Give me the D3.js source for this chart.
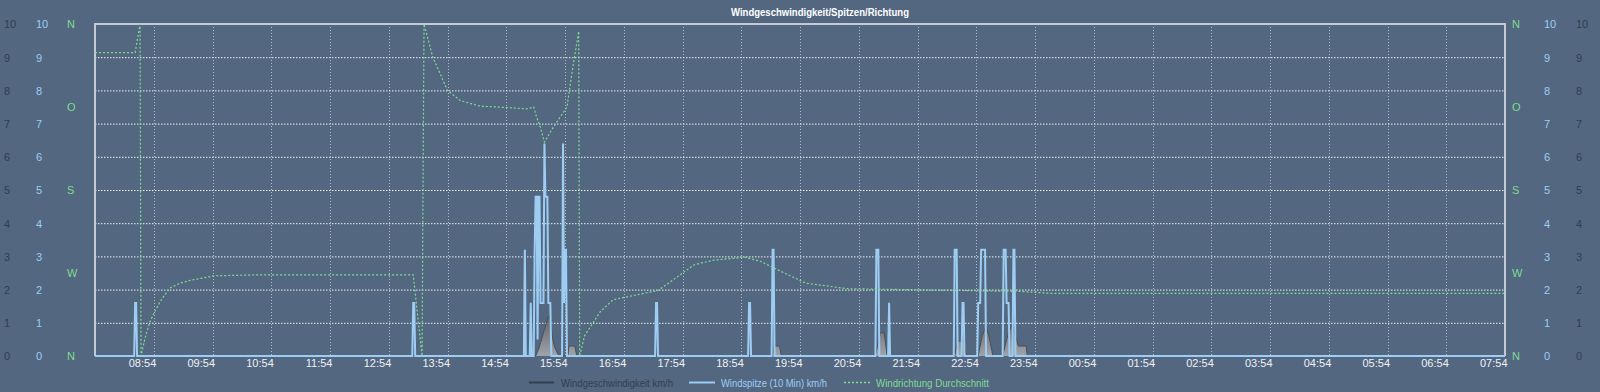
<!DOCTYPE html>
<html><head><meta charset="utf-8">
<script src="https://cdn.jsdelivr.net/npm/d3@7"></script>
<style>
html,body{margin:0;padding:0;background:#536781;}
svg{display:block;font-family:"Liberation Sans",Arial,Helvetica,sans-serif;}
</style></head><body><svg id="c" width="1600" height="392"></svg>
<script>
// ---------- data ----------
const title = "Windgeschwindigkeit/Spitzen/Richtung";
const startTime = "07:54";
const endTime = "07:54";
const xTickLabels = ["08:54","09:54","10:54","11:54","12:54","13:54","14:54","15:54","16:54","17:54","18:54","19:54","20:54","21:54","22:54","23:54","00:54","01:54","02:54","03:54","04:54","05:54","06:54","07:54"];
const speedTicks = [0,1,2,3,4,5,6,7,8,9,10];
const gustTicks = [0,1,2,3,4,5,6,7,8,9,10];
const dirTicks = [0,90,180,270,360];
const dirLabels = ["N","W","S","O","N"];
const legendLabels = ["Windgeschwindigkeit km/h","Windspitze (10 Min) km/h","Windrichtung Durchschnitt"];

// Windgeschwindigkeit km/h
const speedData = [
 ["07:54",0],["15:24",0],["15:27",0.2],["15:30",0.5],["15:32",0.7],["15:35",1.0],["15:37",1.2],["15:39",1.1],["15:41",0.6],["15:43",0.3],["15:46",0.1],["15:48",0],
 ["15:57",0],["15:58",0.3],["16:04",0.3],["16:06",0],
 ["19:26",0],["19:28",0.3],["19:33",0.3],["19:35",0],
 ["21:11",0],["21:16",0.7],["21:20",0.7],["21:23",0],
 ["22:32",0],["22:35",0.45],["22:41",0.45],["22:44",0],
 ["22:56",0],["23:00",0.6],["23:04",0.9],["23:07",0.6],["23:11",0],
 ["23:21",0],["23:25",0.5],["23:30",0.93],["23:35",0.5],["23:37",0.3],["23:45",0.3],["23:46",0],
 ["07:54",0]
];
// Windspitze (10 Min) km/h
const gustData = [
 ["07:54",0],["08:34",0],["08:35",1.6],["08:36",1.6],["08:37",0],
 ["13:18",0],["13:19",1.6],["13:20",1.6],["13:21",0],
 ["15:12",0],["15:13",3.2],["15:14",0],
 ["15:18",0],["15:19",1.6],["15:20",0],
 ["15:22",0],["15:23",3.2],["15:24",4.8],["15:25",4.8],["15:26",0.5],["15:27",4.8],["15:28",4.8],["15:29",1.6],["15:32",1.6],["15:33",6.4],["15:34",4.8],["15:36",4.8],["15:37",1.6],["15:39",1.6],["15:40",0],
 ["15:51",0],["15:52",6.4],["15:53",1.6],["15:54",3.2],["15:55",3.2],["15:56",0],
 ["17:26",0],["17:27",1.6],["17:28",1.6],["17:29",0],
 ["19:01",0],["19:02",1.6],["19:03",1.6],["19:04",0],
 ["19:25",0],["19:26",3.2],["19:27",3.2],["19:28",0],
 ["21:11",0],["21:12",3.2],["21:14",3.2],["21:15",0],
 ["21:24",0],["21:25",1.6],["21:26",0],
 ["22:31",0],["22:32",3.2],["22:34",3.2],["22:35",0],
 ["22:39",0],["22:40",1.6],["22:41",1.6],["22:42",0],
 ["22:55",0],["22:56",1.6],["22:58",1.6],["22:59",3.2],["23:03",3.2],["23:04",0],
 ["23:21",0],["23:22",3.2],["23:24",3.2],["23:25",1.6],["23:27",1.6],["23:28",0],
 ["23:31",0],["23:32",3.2],["23:33",3.2],["23:34",0],
 ["07:54",0]
];
// Windrichtung Durchschnitt (Grad)
const dirData = [
 ["07:54",329],["08:35",329],["08:40",360],["08:41",0],["08:45",19],["08:50",37],["08:55",48],["09:00",58],["09:05",66],["09:11",74],["09:21",79],["09:31",82],["09:56",87],["10:43",88],["13:19",88],
 ["13:28",0],["13:30",360],["13:39",324],["13:54",288],["14:07",277],["14:27",271],["15:01",269],["15:15",268],["15:22",270],["15:25",259],["15:28",251],["15:33",232],["15:42",248],["15:56",270],["16:02",313],["16:08",352],
 ["16:09",0],["16:14",22],["16:30",48],["16:43",61],["17:24",70],["17:29",71],["17:45",83],["18:06",99],["18:26",104],["18:58",107],["19:13",103],["19:34",92],["20:00",79],["20:42",73],["23:39",70],["00:10",68],["07:54",68]
];

// ---------- helpers ----------
const base = new Date(2024,0,1,0,0,0);
function toDate(hm, dayOffset){ const [h,m]=hm.split(":").map(Number); return new Date(base.getTime() + ((dayOffset*24+h)*60+m)*60000); }
function parseSeries(arr){ let day=0, prev=-1; return arr.map(([t,v],i)=>{ const [h,m]=t.split(":").map(Number); const mins=h*60+m; if(i>0 && mins<prev) day++; prev=mins; return {t:toDate(t,day), v}; }); }
const speed = parseSeries(speedData), gust = parseSeries(gustData), dir = parseSeries(dirData);
const ticks = (()=>{ let day=0, prev=-1; return xTickLabels.map(t=>{ const [h,m]=t.split(":").map(Number); const mins=h*60+m; if(mins<prev) day++; prev=mins; return toDate(t,day); }); })();

// ---------- layout ----------
const L=95, R=1505, T=24, B=356;
const svg = d3.select("#c");
const x = d3.scaleTime().domain([toDate(startTime,0), toDate(endTime,1)]).range([L,R]);
const ySpeed = d3.scaleLinear().domain([0,10]).range([B,T]);
const yGust = d3.scaleLinear().domain([0,10]).range([B,T]);
const yDir = d3.scaleLinear().domain([0,360]).range([B,T]);

const cDark="#323e4e", cBlue="#9dcdf2", cGreen="#7fdc90", cText="#eef1f5";

// title
svg.append("text").attr("x",820).attr("y",16).attr("text-anchor","middle").attr("fill","#ffffff")
  .attr("font-size",11.5).attr("font-weight",600).attr("textLength",178).attr("lengthAdjust","spacingAndGlyphs").text(title);

// grid horizontal
svg.append("g").selectAll("line").data(speedTicks.filter(d=>d>0&&d<10)).join("line")
  .attr("x1",L).attr("x2",R).attr("y1",d=>ySpeed(d)+0.5).attr("y2",d=>ySpeed(d)+0.5)
  .attr("stroke","#ffffff").attr("stroke-width",1).attr("stroke-dasharray","1.5,1.5").attr("opacity",0.9);
// grid vertical
svg.append("g").selectAll("line").data(ticks.slice(0,-1)).join("line")
  .attr("x1",d=>Math.round(x(d))+0.5).attr("x2",d=>Math.round(x(d))+0.5).attr("y1",T).attr("y2",B)
  .attr("stroke","#ffffff").attr("stroke-width",1).attr("stroke-dasharray","1,2").attr("opacity",0.55);

// border
svg.append("path").attr("d",`M${L},${B}V${T}H${R}V${B}`).attr("fill","none").attr("stroke","#c3cad6").attr("stroke-width",2);

// speed area
const grad = svg.append("defs").append("linearGradient").attr("id","g1").attr("x1",0).attr("x2",0).attr("y1",0).attr("y2",1);
grad.append("stop").attr("offset","0%").attr("stop-color","#606165");
grad.append("stop").attr("offset","100%").attr("stop-color","#a8abaf");
svg.append("path").datum(speed)
  .attr("d",d3.area().x(d=>x(d.t)).y0(B).y1(d=>ySpeed(d.v)))
  .attr("fill","url(#g1)").attr("opacity",0.9);
svg.append("path").datum(speed)
  .attr("d",d3.line().x(d=>x(d.t)).y(d=>ySpeed(d.v)))
  .attr("fill","none").attr("stroke","#4c5057").attr("stroke-width",1);

// gust line
svg.append("path").datum(gust)
  .attr("d",d3.line().x(d=>x(d.t)).y(d=>yGust(d.v)))
  .attr("fill","none").attr("stroke",cBlue).attr("stroke-width",2).attr("stroke-linejoin","miter");

// direction line
svg.append("path").datum(dir)
  .attr("d",d3.line().x(d=>x(d.t)).y(d=>yDir(d.v)))
  .attr("fill","none").attr("stroke",cGreen).attr("stroke-width",1.2).attr("stroke-dasharray","2,2");

// axes
function styleAxis(g, color, xpos){
  g.select(".domain").remove(); g.selectAll(".tick line").remove();
  g.selectAll("text").attr("fill",color).attr("font-size",11).attr("text-anchor","start").attr("x",xpos).attr("dy","0.35em");
}
svg.append("g").call(d3.axisLeft(ySpeed).tickValues(speedTicks)).call(g=>styleAxis(g,cDark,4));
svg.append("g").call(d3.axisLeft(yGust).tickValues(gustTicks)).call(g=>styleAxis(g,cBlue,36));
svg.append("g").call(d3.axisLeft(yDir).tickValues(dirTicks).tickFormat((d,i)=>dirLabels[i])).call(g=>styleAxis(g,cGreen,67));
svg.append("g").call(d3.axisRight(yDir).tickValues(dirTicks).tickFormat((d,i)=>dirLabels[i])).call(g=>styleAxis(g,cGreen,1512));
svg.append("g").call(d3.axisRight(yGust).tickValues(gustTicks)).call(g=>styleAxis(g,cBlue,1544));
svg.append("g").call(d3.axisRight(ySpeed).tickValues(speedTicks)).call(g=>styleAxis(g,cDark,1576));

const xa = svg.append("g").attr("transform",`translate(0,${B})`).call(d3.axisBottom(x).tickValues(ticks).tickFormat(d3.timeFormat("%H:%M")));
xa.select(".domain").remove(); xa.selectAll(".tick line").remove();
xa.selectAll("text").attr("fill",cText).attr("font-size",11).attr("text-anchor","end").attr("x",2).attr("y",11).attr("dy",0);

// legend
const lg = svg.append("g");
const items = [
  {x0:529,x1:554,tx:561,w:112,color:cDark,dash:null,sw:2},
  {x0:689,x1:715,tx:721,w:106,color:cBlue,dash:null,sw:2},
  {x0:844,x1:870,tx:876,w:113,color:cGreen,dash:"2,2",sw:1.5}
];
items.forEach((it,i)=>{
  lg.append("line").attr("x1",it.x0).attr("x2",it.x1).attr("y1",382.5).attr("y2",382.5).attr("stroke",it.color).attr("stroke-width",it.sw).attr("stroke-dasharray",it.dash);
  lg.append("text").attr("x",it.tx).attr("y",386.5).attr("fill",it.color).attr("font-size",10.5)
    .attr("textLength",it.w).attr("lengthAdjust","spacingAndGlyphs").text(legendLabels[i]);
});
</script></body></html>
